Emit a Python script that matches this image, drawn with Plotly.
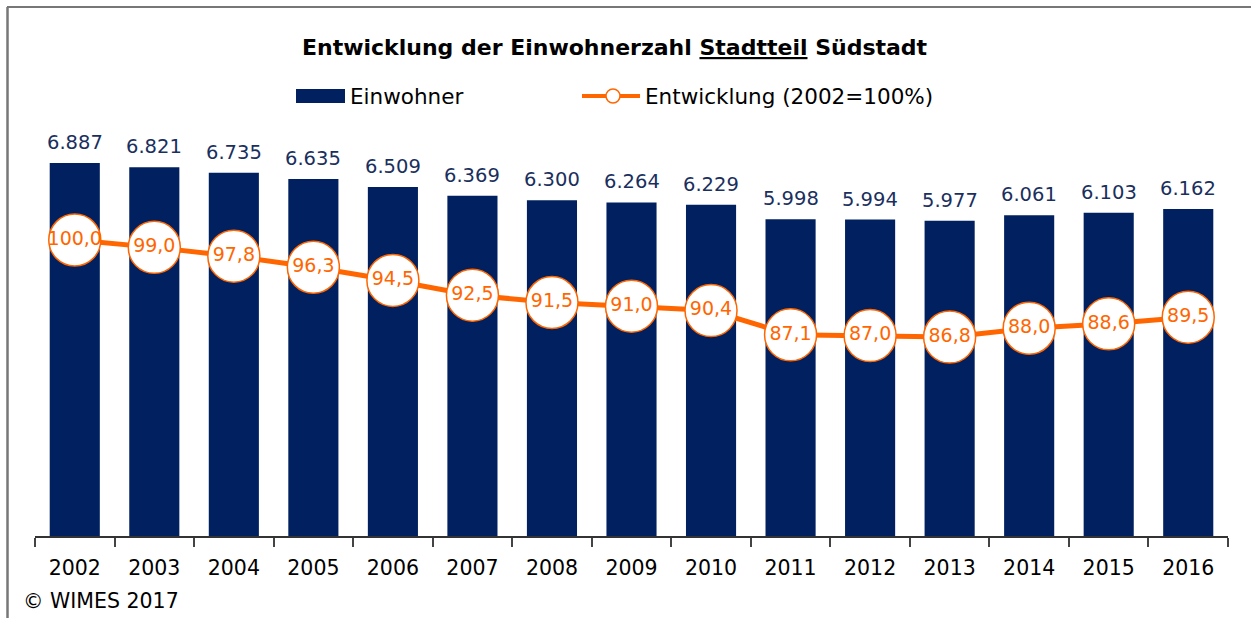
import plotly.graph_objects as go

# ---- data ----
years = ["2002", "2003", "2004", "2005", "2006", "2007", "2008", "2009",
         "2010", "2011", "2012", "2013", "2014", "2015", "2016"]
einwohner = [6887, 6821, 6735, 6635, 6509, 6369, 6300, 6264,
             6229, 5998, 5994, 5977, 6061, 6103, 6162]
entwicklung = [100.0, 99.0, 97.8, 96.3, 94.5, 92.5, 91.5, 91.0,
               90.4, 87.1, 87.0, 86.8, 88.0, 88.6, 89.5]

title_text = "<b>Entwicklung der Einwohnerzahl <u>Stadtteil</u> Südstadt</b>"
legend_bar = "Einwohner"
legend_line = "Entwicklung (2002=100%)"
footer = "© WIMES 2017"

# ---- styling ----
FONT = "DejaVu Sans"
NAVY = "#002060"
ORANGE = "#FF6600"
W, H = 1251, 618
L, R, T, B = 35, 23, 120, 82
PW, PH = W - L - R, H - T - B


def px_x(p):
    return (p - L) / PW


def px_y(p):
    return (H - B - p) / PH


fig = go.Figure()

fig.add_trace(go.Bar(
    x=years, y=einwohner, name=legend_bar,
    marker=dict(color=NAVY, line=dict(width=0)),
    showlegend=False,
))

fig.add_trace(go.Scatter(
    x=years, y=entwicklung, name=legend_line, yaxis="y2",
    mode="lines+markers+text",
    line=dict(color=ORANGE, width=5),
    marker=dict(size=52, color="white", line=dict(color=ORANGE, width=1.5)),
    texttemplate="%{y:.1f}", textposition="middle center",
    textfont=dict(family=FONT, size=19, color=ORANGE),
    cliponaxis=False, showlegend=False,
))

shapes = [
    # frame (top and left)
    dict(type="line", xref="paper", yref="paper",
         x0=px_x(7), x1=px_x(W + 5), y0=px_y(7), y1=px_y(7),
         line=dict(color="#777777", width=2)),
    dict(type="line", xref="paper", yref="paper",
         x0=px_x(7.5), x1=px_x(7.5), y0=px_y(7), y1=px_y(H + 5),
         line=dict(color="#777777", width=2.5)),
    # legend: bar swatch
    dict(type="rect", xref="paper", yref="paper",
         x0=px_x(296), x1=px_x(345), y0=px_y(89), y1=px_y(103),
         fillcolor=NAVY, line=dict(width=0)),
    # legend: line swatch
    dict(type="line", xref="paper", yref="paper",
         x0=px_x(582), x1=px_x(640), y0=px_y(96), y1=px_y(96),
         line=dict(color=ORANGE, width=4)),
    dict(type="circle", xref="paper", yref="paper",
         x0=px_x(606), x1=px_x(620), y0=px_y(89), y1=px_y(103),
         fillcolor="white", line=dict(color=ORANGE, width=1.5)),
]

annotations = [
    dict(text=title_text, xref="paper", yref="paper",
         x=px_x(615), y=px_y(47), xanchor="center", yanchor="middle",
         showarrow=False, font=dict(family=FONT, size=22, color="black")),
    dict(text=legend_bar, xref="paper", yref="paper",
         x=px_x(348), y=px_y(96), xanchor="left", yanchor="middle",
         showarrow=False, font=dict(family=FONT, size=21.5, color="black")),
    dict(text=legend_line, xref="paper", yref="paper",
         x=px_x(643), y=px_y(96), xanchor="left", yanchor="middle",
         showarrow=False, font=dict(family=FONT, size=21.5, color="black")),
    dict(text=footer, xref="paper", yref="paper",
         x=px_x(21), y=px_y(601), xanchor="left", yanchor="middle",
         showarrow=False, font=dict(family=FONT, size=20.5, color="black")),
]

# value labels above the bars (German thousands separator)
for i, v in enumerate(einwohner):
    annotations.append(dict(
        text=f"{v:,}".replace(",", "."), x=i, y=v, xref="x", yref="y",
        xanchor="center", yanchor="bottom", yshift=7, showarrow=False,
        font=dict(family=FONT, size=19.5, color="#1a2f5e"),
    ))

fig.update_layout(
    width=W, height=H,
    margin=dict(l=L, r=R, t=T, b=B, pad=0),
    paper_bgcolor="white", plot_bgcolor="white",
    separators=",.",
    bargap=0.37,
    showlegend=False,
    font=dict(family=FONT),
    xaxis=dict(
        type="category", categoryarray=years, range=[-0.5, len(years) - 0.5],
        showline=True, linecolor="#333333", linewidth=2,
        ticks="outside", ticklen=9, tickwidth=2, tickcolor="#444444",
        tickson="boundaries", ticklabelstandoff=12,
        tickfont=dict(family=FONT, size=20.5, color="black"),
        showgrid=False, zeroline=False,
    ),
    yaxis=dict(range=[1000, 7566], visible=False, showgrid=False),
    yaxis2=dict(range=[59.73, 116.33], overlaying="y", visible=False,
                showgrid=False),
    shapes=shapes,
    annotations=annotations,
)

fig.write_html("out.html",
               config={"displayModeBar": False},
               post_script="document.body.style.margin='0';")
